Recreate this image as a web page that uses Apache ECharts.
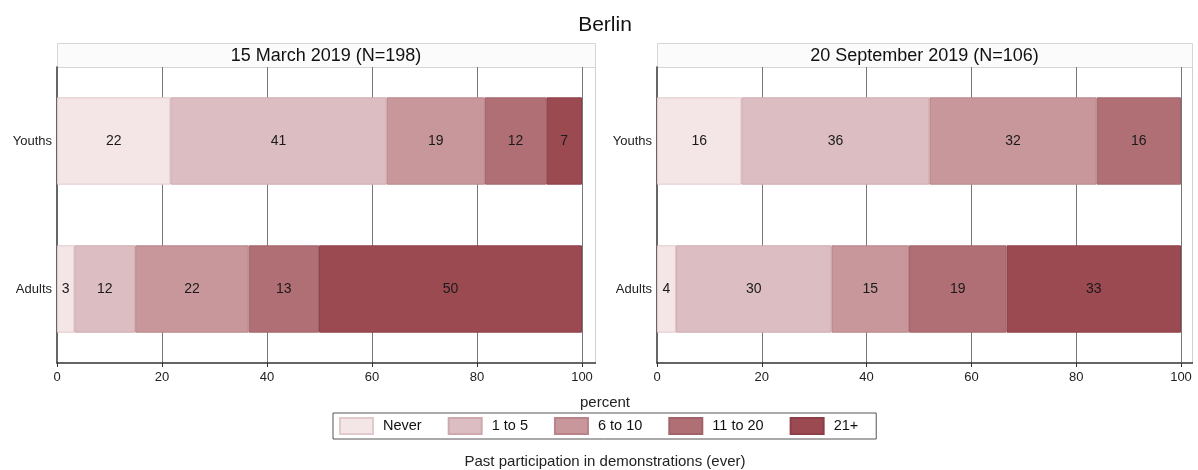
<!DOCTYPE html>
<html>
<head>
<meta charset="utf-8">
<script src="https://cdn.jsdelivr.net/npm/echarts@6/dist/echarts.min.js"></script>
<style>
html,body{margin:0;padding:0;background:#fff;}
#chart{width:1198px;height:470px;}
</style>
</head>
<body>
<div id="chart"></div>
<script>
// ---- data ----
const categories = ['Youths', 'Adults'];
const groups = ['Never', '1 to 5', '6 to 10', '11 to 20', '21+'];
const panelTitles = ['15 March 2019 (N=198)', '20 September 2019 (N=106)'];
const marchYouths = [21.6, 41.2, 18.7, 11.7, 6.8];
const marchAdults = [3.3, 11.6, 21.6, 13.4, 50.1];
const septYouths = [16.1, 35.9, 31.9, 16.1, 0];
const septAdults = [3.6, 29.7, 14.8, 18.6, 33.3];
const mainTitle = 'Berlin';
const xAxisTitle = 'percent';
const legendTitle = 'Past participation in demonstrations (ever)';

// ---- style ----
const FONT = "'Liberation Sans', Arial, Helvetica, sans-serif";
const fills = ['#f4e6e7', '#dcbec2', '#c8979b', '#b06f75', '#9b4a51'];
const borders = ['#e2c9cc', '#cfa9ae', '#b98489', '#a0636a', '#8c3f46'];
const gridTop = 67, gridH = 296;
const grids = [
  { left: 57, width: 525, right: 595 },
  { left: 657, width: 524, right: 1192 }
];

const chart = echarts.init(document.getElementById('chart'), null, { renderer: 'canvas' });

const xAxes = grids.map((g, i) => ({
  type: 'value', gridIndex: i, min: 0, max: 100, interval: 20,
  axisLine: { show: true, lineStyle: { color: '#333', width: 1.5 } },
  axisTick: { show: true, length: 4, lineStyle: { color: '#333' } },
  axisLabel: { color: '#222', fontSize: 13, fontFamily: FONT, margin: 8 },
  splitLine: { show: true, showMinLine: false, showMaxLine: true, lineStyle: { color: '#777', width: 1 } }
}));
const yAxes = grids.map((g, i) => ({
  type: 'category', gridIndex: i, data: categories, inverse: true,
  axisLine: { show: true, lineStyle: { color: '#333', width: 1.5 } },
  axisTick: { show: false },
  axisLabel: { color: '#222', fontSize: 13, fontFamily: FONT, margin: 5 },
  splitLine: { show: false }
}));

const panelData = [
  [marchYouths, marchAdults],
  [septYouths, septAdults]
];
const series = [];
panelData.forEach((pd, pi) => {
  groups.forEach((name, gi) => {
    series.push({
      type: 'bar', name: name, xAxisIndex: pi, yAxisIndex: pi,
      stack: 'p' + pi, barCategoryGap: '41%',
      data: [pd[0][gi], pd[1][gi]].map(v => (v > 0 ? v : null)),
      itemStyle: { color: fills[gi], borderColor: borders[gi], borderWidth: 1 },
      label: {
        show: true, position: 'inside', color: '#1a1a1a', fontSize: 14, fontFamily: FONT,
        formatter: p => (p.value > 0 ? String(Math.round(p.value)) : '')
      },
      emphasis: { disabled: true },
      silent: true, animation: false
    });
  });
});

const graphics = [];
grids.forEach((g, i) => {
  graphics.push({
    type: 'rect', z: -1,
    shape: { x: g.left + 0.5, y: 43.5, width: g.right - g.left, height: gridTop - 43 },
    style: { fill: '#fbfbfb', stroke: '#d6d6d6', lineWidth: 1 }
  });
  graphics.push({
    type: 'text', x: (g.left + g.right) / 2, y: 56,
    style: { text: panelTitles[i], fill: '#111', font: '18px ' + FONT, textAlign: 'center', textVerticalAlign: 'middle' }
  });
  graphics.push({
    type: 'line', z: -1,
    shape: { x1: g.right + 0.5, y1: gridTop, x2: g.right + 0.5, y2: gridTop + gridH },
    style: { stroke: '#d0d0d0', lineWidth: 1 }
  });
  graphics.push({
    type: 'line',
    shape: { x1: g.left + g.width, y1: gridTop + gridH, x2: g.right + 1, y2: gridTop + gridH },
    style: { stroke: '#333', lineWidth: 1.5 }
  });
});
graphics.push({
  type: 'text', x: 605, y: 403,
  style: { text: xAxisTitle, fill: '#222', font: '15px ' + FONT, textAlign: 'center', textVerticalAlign: 'middle' }
});
graphics.push({
  type: 'text', x: 605, y: 462,
  style: { text: legendTitle, fill: '#222', font: '15px ' + FONT, textAlign: 'center', textVerticalAlign: 'middle' }
});

chart.setOption({
  animation: false,
  backgroundColor: '#fff',
  title: {
    text: mainTitle, left: 600, top: 10, textAlign: 'center',
    textStyle: { fontSize: 21, fontWeight: 'normal', color: '#111', fontFamily: FONT }
  },
  legend: {
    data: groups, left: 333, top: 413,
    itemWidth: 33, itemHeight: 16, itemGap: 26,
    icon: 'rect',
    padding: [4, 18, 4, 6],
    borderColor: '#555', borderWidth: 1,
    selectedMode: false,
    textStyle: { fontSize: 14.5, color: '#111', fontFamily: FONT, padding: [0, 0, 0, 5] }
  },
  grid: grids.map(g => ({ left: g.left, top: gridTop, width: g.width, height: gridH, containLabel: false })),
  xAxis: xAxes,
  yAxis: yAxes,
  series: series,
  graphic: graphics
});
</script>
</body>
</html>
